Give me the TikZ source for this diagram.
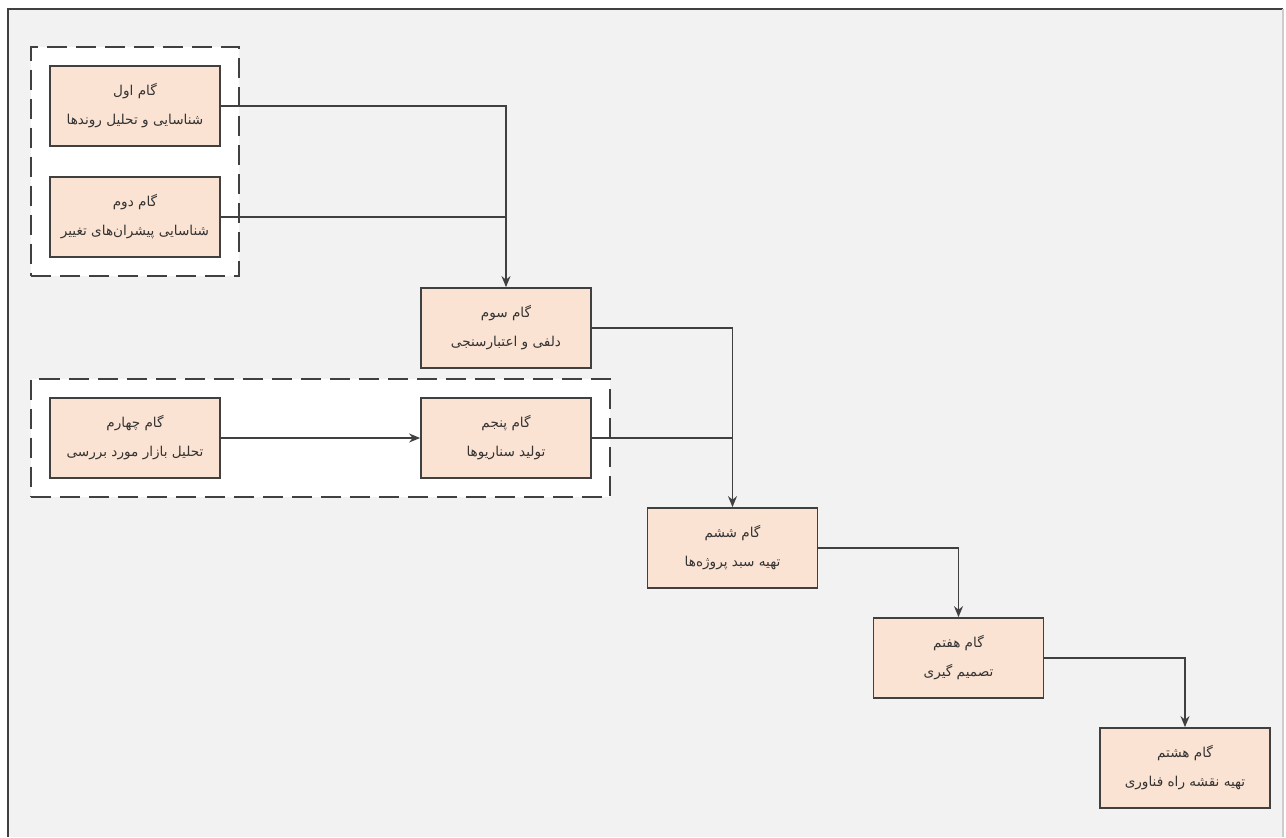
\documentclass[tikz,border=0pt]{standalone}
\usepackage{fontspec}
\newfontfamily\persianfont[Script=Arabic]{DejaVu Sans}
\TeXXeTstate=1
\usetikzlibrary{arrows.meta, fit, backgrounds}
\definecolor{stepfill}{HTML}{FBE3D3}
\definecolor{stepline}{HTML}{404040}
\definecolor{pagebg}{HTML}{F2F2F2}
\tikzstyle{arrow} = [-{Stealth[length=5.5pt,width=4.5pt]}, line width=0.75pt, draw=stepline]
\tikzstyle{link} = [line width=0.75pt, draw=stepline]
\tikzstyle{stepbox}=[rectangle, draw=stepline, line width=0.9pt, fill=stepfill, minimum width=85pt, minimum height=40pt, align=center, font=\persianfont\fontsize{6.8}{14.5}\selectfont, text=black!80]
\tikzstyle{groupbox}=[rectangle, draw=stepline, fill=white, line width=1pt, dash pattern=on 10pt off 4.5pt, inner sep=9pt]
\newcommand{\rtl}[1]{\beginR #1\endR}

\begin{document}
\begin{tikzpicture}[x=0.5pt, y=-0.5pt]
        \useasboundingbox (0,0) rectangle (1286,837);

        \node[stepbox] (b1) at (135,106) {\rtl{گام اول}\\\rtl{شناسایی و تحلیل روندها}};
        \node[stepbox] (b2) at (135,217) {\rtl{گام دوم}\\\rtl{شناسایی پیشران‌های تغییر}};
        \node[stepbox] (b3) at (506,328) {\rtl{گام سوم}\\\rtl{دلفی و اعتبارسنجی}};
        \node[stepbox] (b4) at (135,438) {\rtl{گام چهارم}\\\rtl{تحلیل بازار مورد بررسی}};
        \node[stepbox] (b5) at (506,438) {\rtl{گام پنجم}\\\rtl{تولید سناریوها}};
        \node[stepbox] (b6) at (732.5,548) {\rtl{گام ششم}\\\rtl{تهیه سبد پروژه‌ها}};
        \node[stepbox] (b7) at (958.5,658) {\rtl{گام هفتم}\\\rtl{تصمیم گیری}};
        \node[stepbox] (b8) at (1185,768) {\rtl{گام هشتم}\\\rtl{تهیه نقشه راه فناوری}};

        \begin{scope}[on background layer]
            \fill[pagebg] (8,9) rectangle (1283,837);
            \draw[stepline, line width=1pt] (8,837) -- (8,9) -- (1283,9);
            \draw[black!20, line width=0.8pt] (1283,9) -- (1283,837);
            \node[groupbox, fit=(b1)(b2)] (g1) {};
            \node[groupbox, fit=(b4)(b5)] (g2) {};
        \end{scope}

        \draw[arrow] (b1.east) -| (b3.north);
        \draw[link] (b2.east) -- (b2.east -| b3.north);

        \draw[arrow] (b4) -- (b5);

        \draw[arrow] (b3.east) -| (b6.north);
        \draw[link] (b5.east) -- (b5.east -| b6.north);

        \draw[arrow] (b6.east) -| (b7.north);
        \draw[arrow] (b7.east) -| (b8.north);
\end{tikzpicture}
\end{document}
